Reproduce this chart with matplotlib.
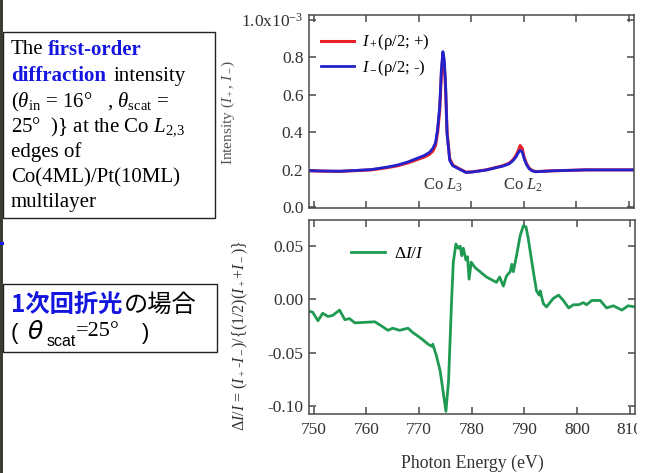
import matplotlib
matplotlib.use("Agg")
from matplotlib import pyplot as plt
from matplotlib.patches import Rectangle

# top panel: diffraction intensity (units of 1e-3)
energy_top = [749, 752, 755, 758, 761, 764, 766, 768, 770, 771, 772, 772.7, 773.2, 773.6,
              774.0, 774.3, 774.6, 774.85, 775.1, 775.4, 775.9, 776.5, 777.8, 779.0, 780.3,
              782.8, 786.0, 787.2, 787.9, 788.5, 789.0, 789.3, 789.7, 790.1, 790.5, 791.0,
              791.6, 792.3, 795.4, 801.8, 806, 811]
i_plus = [0.195, 0.193, 0.192, 0.196, 0.200, 0.212, 0.222, 0.238, 0.258, 0.268, 0.282, 0.300,
          0.330, 0.400, 0.520, 0.700, 0.815, 0.760, 0.640, 0.400, 0.260, 0.225, 0.205, 0.188,
          0.190, 0.200, 0.222, 0.235, 0.252, 0.275, 0.305, 0.330, 0.315, 0.265, 0.235, 0.210,
          0.197, 0.191, 0.195, 0.200, 0.200, 0.200]
i_minus = [0.196, 0.194, 0.193, 0.197, 0.202, 0.215, 0.226, 0.243, 0.265, 0.276, 0.292, 0.315,
           0.345, 0.420, 0.540, 0.730, 0.830, 0.790, 0.670, 0.390, 0.250, 0.222, 0.203, 0.186,
           0.189, 0.199, 0.220, 0.232, 0.248, 0.268, 0.293, 0.304, 0.296, 0.258, 0.230, 0.207,
           0.195, 0.190, 0.195, 0.200, 0.200, 0.200]

# bottom panel: asymmetry dI/I
energy_bot = [749.1, 749.8, 750.8, 751.7, 752.7, 753.6, 754.9, 755.9, 756.8, 757.8, 761.6,
              762.9, 764.1, 765.0, 766.3, 767.9, 768.8, 770.5, 771.7, 772.4, 772.6, 773.3,
              774.0, 775.1, 775.6, 776.2, 776.5, 777.0, 777.4, 777.8, 778.1, 778.4, 778.9,
              779.2, 779.5, 779.9, 780.6, 782.8, 784.7, 785.3, 786.0, 786.6, 787.3, 787.6,
              787.9, 788.5, 789.2, 789.8, 790.3, 790.7, 791.7, 792.3, 792.8, 793.0, 793.6,
              794.2, 795.5, 796.5, 797.4, 798.4, 799.3, 800.3, 801.2, 801.8, 802.8, 804.4,
              805.6, 806.9, 808.5, 809.7, 811.0]
asym = [-0.011, -0.012, -0.020, -0.013, -0.016, -0.015, -0.010, -0.019, -0.018, -0.022, -0.021,
        -0.025, -0.029, -0.027, -0.029, -0.027, -0.031, -0.037, -0.042, -0.044, -0.042, -0.053,
        -0.067, -0.105, -0.076, 0.002, 0.035, 0.052, 0.048, 0.050, 0.041, 0.048, 0.037,
        0.040, 0.019, 0.035, 0.030, 0.021, 0.016, 0.021, 0.0125, 0.022, 0.026, 0.033,
        0.026, 0.041, 0.060, 0.069, 0.068, 0.058, 0.026, 0.008, 0.004, 0.008, -0.004,
        -0.007, 0.001, 0.004, -0.001, -0.008, -0.005, -0.005, -0.003, -0.005, -0.001, -0.001,
        -0.008, -0.006, -0.010, -0.006, -0.007]

xticks = [750, 760, 770, 780, 790, 800, 810]
top_yticks = [0.0, 0.2, 0.4, 0.6, 0.8, 1.0]
top_ylabels = ["0.0", "0.2", "0.4", "0.6", "0.8", r"1.0x10$^{-3}$"]
bot_yticks = [-0.10, -0.05, 0.00, 0.05]
bot_ylabels = ["-0.10", "-0.05", "0.00", "0.05"]

plt.rcParams["font.family"] = ["Liberation Serif", "DejaVu Sans"]
plt.rcParams["mathtext.fontset"] = "custom"
plt.rcParams["mathtext.rm"] = "Liberation Serif"
plt.rcParams["mathtext.it"] = "Liberation Serif:italic"
plt.rcParams["mathtext.bf"] = "Liberation Serif:bold"
plt.rcParams["axes.unicode_minus"] = False

SPINE = "#4a4a4a"
TXT = "#333333"


def style_axes(ax):
    for s in ax.spines.values():
        s.set_color(SPINE)
        s.set_linewidth(1.1)
    ax.tick_params(direction="in", top=True, right=True, length=5, width=1.1,
                   color=SPINE, labelsize=12.5, labelcolor=TXT, pad=4)
    ax.tick_params(axis="x", pad=6)
    ax.set_xlim(749.1, 811)
    ax.set_xticks(xticks)


fig = plt.figure(figsize=(6.51, 4.73), dpi=100)

ax1 = fig.add_axes([309 / 651, 1 - 208 / 473, 325 / 651, 193 / 473])
ax1.plot(energy_top, i_plus, color="#e8202a", lw=2.2, label=r"$I_+$(ρ/2; +)")
ax1.plot(energy_top, i_minus, color="#2222cc", lw=2.0, label=r"$I_-$(ρ/2; -)")
style_axes(ax1)
ax1.set_xticklabels([])
ax1.set_ylim(-0.003, 1.025)
ax1.set_yticks(top_yticks)
ax1.set_yticklabels(top_ylabels)
ax1.legend(loc="upper left", bbox_to_anchor=(0.0, 0.97), frameon=False, fontsize=12,
           handlelength=2.0, borderaxespad=0.3, labelspacing=0.35, handletextpad=0.45)
ax1.text(774.7, 0.12, r"Co $L_3$", ha="center", va="center", fontsize=12, color=TXT)
ax1.text(789.8, 0.12, r"Co $L_2$", ha="center", va="center", fontsize=12, color=TXT)

ax2 = fig.add_axes([309 / 651, 1 - 414 / 473, 326 / 651, 194 / 473])
ax2.plot(energy_bot, asym, color="#1e9a52", lw=2.0, label=r"$\Delta I/I$")
style_axes(ax2)
ax2.set_ylim(-0.1075, 0.0745)
ax2.set_yticks(bot_yticks)
ax2.set_yticklabels(bot_ylabels)
ax2.legend(loc="upper left", bbox_to_anchor=(0.08, 0.945), frameon=False, fontsize=12.5,
           handlelength=2.0, handletextpad=0.5)
ax2.set_xlabel("Photon Energy (eV)", fontsize=12.8, color=TXT, labelpad=12)

fig.text(228 / 651, 1 - 112 / 473, r"Intensity ($I_+$, $I_-$)", rotation=90,
         ha="center", va="center", fontsize=11, color="#555555")
fig.text(240 / 651, 1 - 336 / 473, r"$\Delta I/I$ = ($I_+$-$I_-$)/{(1/2)($I_+$+$I_-$)}",
         rotation=90, ha="center", va="center", fontsize=11.5, color=TXT)

# left description boxes
fig.patches.append(Rectangle((3 / 651, 1 - 218 / 473), 212 / 651, 186 / 473,
                             transform=fig.transFigure, fill=False, ec="#222222", lw=1))
fs = 15
lines_y = [50, 76, 102, 127, 152, 178, 203]
fig.text(11 / 651, 1 - lines_y[0] / 473, "The", fontsize=fs, va="center")
fig.text(48 / 651, 1 - lines_y[0] / 473, "first-order", fontsize=fs, va="center",
         color="#1515e0", fontweight="bold")
fig.text(11 / 651, 1 - lines_y[1] / 473, "diffraction", fontsize=fs, va="center",
         color="#1515e0", fontweight="bold")
fig.text(114 / 651, 1 - lines_y[1] / 473, "intensity", fontsize=fs, va="center")
fig.text(11 / 651, 1 - lines_y[2] / 473,
         r"($\theta_{\rm in}$ = 16°   , $\theta_{\rm scat}$ =", fontsize=fs, va="center")
fig.text(11 / 651, 1 - lines_y[3] / 473, r"25°  )} at the Co $L_{2{,}3}$", fontsize=fs,
         va="center")
fig.text(11 / 651, 1 - lines_y[4] / 473, "edges of", fontsize=fs, va="center")
fig.text(11 / 651, 1 - lines_y[5] / 473, "Co(4ML)/Pt(10ML)", fontsize=fs, va="center")
fig.text(11 / 651, 1 - lines_y[6] / 473, "multilayer", fontsize=fs, va="center")

fig.patches.append(Rectangle((3 / 651, 1 - 352 / 473), 214 / 651, 68 / 473,
                             transform=fig.transFigure, fill=False, ec="#222222", lw=1))
jp = ["Noto Sans CJK JP", "DejaVu Sans"]
fig.text(11 / 651, 1 - 305 / 473, "1次回折光", fontsize=17.5, va="center", family=jp,
         color="#1515e0", fontweight="bold")
fig.text(124 / 651, 1 - 305 / 473, "の場合", fontsize=17.5, va="center", family=jp)
fig.text(11 / 651, 1 - 333 / 473, "(", fontsize=16, va="center", family="Liberation Sans")
fig.text(27 / 651, 1 - 332 / 473, "θ", fontsize=18, va="center", family="DejaVu Sans",
         style="italic")
fig.text(47 / 651, 1 - 341 / 473, "scat", fontsize=11.5, va="center",
         family="Liberation Sans")
fig.text(76 / 651, 1 - 331 / 473, "=25°", fontsize=16, va="center")
fig.text(142 / 651, 1 - 333 / 473, ")", fontsize=16, va="center", family="Liberation Sans")

# dark photo strip at the left edge and the cropped right edge
fig.patches.append(Rectangle((0, 0), 3 / 651, 1, transform=fig.transFigure,
                             color="#3b3d33", lw=0))
fig.patches.append(Rectangle((0, 1 - 245 / 473), 4 / 651, 3 / 473, transform=fig.transFigure,
                             color="#1a1aff", lw=0))
fig.patches.append(Rectangle((637 / 651, 0), 14 / 651, 1, transform=fig.transFigure,
                             color="white", lw=0, zorder=10))

fig.savefig("out.png", dpi=100)
